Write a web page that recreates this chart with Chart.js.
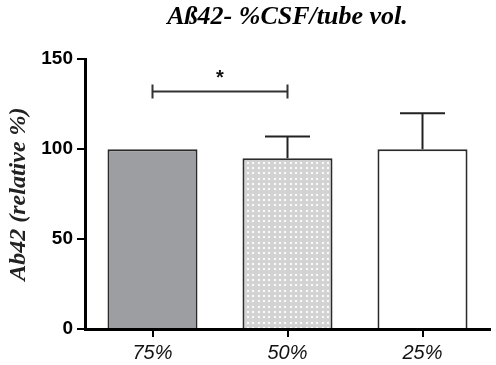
<!DOCTYPE html>
<html>
<head>
<meta charset="utf-8">
<script src="https://cdn.jsdelivr.net/npm/chart.js@4/dist/chart.umd.min.js"></script>
<style>
  html, body { margin: 0; padding: 0; background: #fff; }
  #wrap { width: 496px; height: 365px; }
</style>
</head>
<body>
<div id="wrap"><canvas id="chart-abeta"></canvas></div>
<script>
// data
const groups = ["75%", "50%", "25%"]
const means = [100, 95, 100]
const errors = [0, 12, 20]
const yTicks = [0, 50, 100, 150]
const sigPairs = [{ from: 0, to: 1, at: 132, label: "*" }]

// dotted fill for the middle bar
function dotPattern() {
  const c = document.createElement("canvas")
  c.width = 16; c.height = 16
  const g = c.getContext("2d")
  g.fillStyle = "#d3d3d4"
  g.fillRect(0, 0, 16, 16)
  g.fillStyle = "rgba(255,255,255,0.9)"
  ;[2, 7, 12].forEach(x => [2, 7, 12].forEach(y => g.fillRect(x, y, 2, 2)))
  return document.createElement("canvas").getContext("2d").createPattern(c, "repeat")
}

const errorBars = {
  id: "errorBars",
  afterDatasetsDraw(chart) {
    const ctx = chart.ctx
    const y = chart.scales.y
    const meta = chart.getDatasetMeta(0)
    ctx.save()
    ctx.strokeStyle = "#222"
    ctx.lineWidth = 2
    meta.data.forEach((bar, i) => {
      if (!errors[i]) return
      const top = y.getPixelForValue(means[i] + errors[i])
      const half = bar.width / 4
      ctx.beginPath()
      ctx.moveTo(bar.x, bar.y)
      ctx.lineTo(bar.x, top)
      ctx.moveTo(bar.x - half, top)
      ctx.lineTo(bar.x + half, top)
      ctx.stroke()
    })
    ctx.restore()
  }
}

const significance = {
  id: "significance",
  afterDatasetsDraw(chart) {
    const ctx = chart.ctx
    const x = chart.scales.x
    const y = chart.scales.y
    ctx.save()
    ctx.strokeStyle = "#333"
    ctx.fillStyle = "#111"
    ctx.lineWidth = 2
    sigPairs.forEach(s => {
      const x1 = x.getPixelForValue(s.from)
      const x2 = x.getPixelForValue(s.to)
      const yy = y.getPixelForValue(s.at)
      ctx.beginPath()
      ctx.moveTo(x1, yy); ctx.lineTo(x2, yy)
      ctx.moveTo(x1, yy - 7); ctx.lineTo(x1, yy + 7)
      ctx.moveTo(x2, yy - 7); ctx.lineTo(x2, yy + 7)
      ctx.stroke()
      ctx.font = "bold 20px 'Liberation Sans', Arial, sans-serif"
      ctx.textAlign = "center"
      ctx.textBaseline = "middle"
      ctx.fillText(s.label, (x1 + x2) / 2, yy - 13)
    })
    ctx.restore()
  }
}

new Chart(document.getElementById("chart-abeta"), {
  type: "bar",
  data: {
    labels: groups,
    datasets: [{
      data: means,
      backgroundColor: ["#9d9ea1", dotPattern(), "#ffffff"],
      borderColor: "#2b2b2b",
      borderWidth: 2,
      borderSkipped: "bottom",
      barPercentage: 0.667,
      categoryPercentage: 1
    }]
  },
  options: {
    responsive: true,
    maintainAspectRatio: false,
    animation: false,
    layout: { padding: { left: 4, right: 6, top: 0, bottom: 0 } },
    plugins: {
      legend: { display: false },
      tooltip: { enabled: false },
      title: {
        display: true,
        fullSize: false,
        text: "Aß42- %CSF/tube vol.",
        color: "#000",
        font: { family: "'Liberation Serif', 'Times New Roman', serif", size: 26, style: "italic", weight: "bold" },
        padding: { top: 2, bottom: 26 }
      }
    },
    scales: {
      x: {
        afterFit(axis) { axis.height = 36 },
        grid: { offset: false, drawOnChartArea: false, tickLength: 8, lineWidth: 2, color: "#000" },
        border: { width: 3, color: "#000" },
        ticks: {
          color: "#111",
          padding: 4,
          font: { family: "'Liberation Sans', Arial, sans-serif", size: 20, style: "italic" }
        }
      },
      y: {
        min: 0,
        max: 150,
        afterBuildTicks(axis) { axis.ticks = yTicks.map(v => ({ value: v })) },
        afterFit(axis) { axis.width = 81 },
        grid: { drawOnChartArea: false, tickLength: 8, lineWidth: 2, color: "#000" },
        border: { width: 3, color: "#000" },
        ticks: {
          color: "#000",
          padding: 4,
          font: { family: "'Liberation Sans', Arial, sans-serif", size: 19, weight: "bold" }
        },
        title: {
          display: true,
          text: "Ab42 (relative %)",
          color: "#222",
          padding: { top: 0, bottom: 3 },
          font: { family: "'Liberation Serif', 'Times New Roman', serif", size: 24, style: "italic", weight: "bold" }
        }
      }
    }
  },
  plugins: [errorBars, significance]
})
</script>
</body>
</html>
